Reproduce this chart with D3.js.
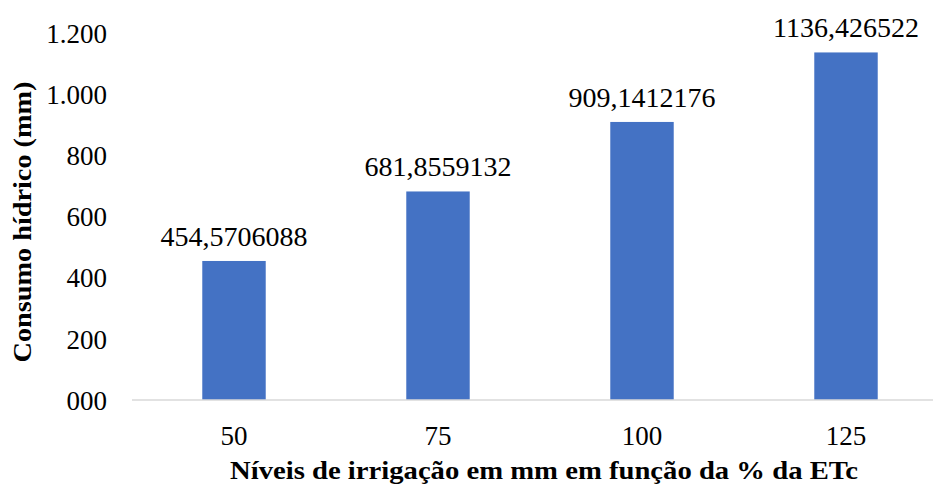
<!DOCTYPE html>
<html>
<head>
<meta charset="utf-8">
<script src="https://cdn.jsdelivr.net/npm/d3@7"></script>
<style>
  html, body { margin: 0; padding: 0; background: #fff; }
</style>
</head>
<body>
<svg id="chart" width="933" height="487" style="display:block;font-family:'Liberation Serif'"></svg>
<script>
// Irrigation levels (% of ETc) and water consumption (mm)
const categories = ["50", "75", "100", "125"];
const values = [454.5706088, 681.8559132, 909.1412176, 1136.426522];
const valueLabels = ["454,5706088", "681,8559132", "909,1412176", "1136,426522"];
const yTicks = [0, 200, 400, 600, 800, 1000, 1200];
const yTickLabels = ["000", "200", "400", "600", "800", "1.000", "1.200"];

const FONT = "Liberation Serif";
const svg = d3.select("#chart");
const W = 933;
const plot = { left: 132, right: 948, top: 33, bottom: 400 };

const x = d3.scaleBand()
  .domain(categories)
  .range([plot.left, plot.right])
  .paddingInner(0.689)
  .paddingOuter(0.3445);

const y = d3.scaleLinear()
  .domain([0, 1200])
  .range([plot.bottom, plot.top]);

function serif(sel, size, weight) {
  sel.attr("font-family", FONT)
    .style("font-family", FONT)
    .attr("font-size", size)
    .style("font-size", size + "px")
    .style("font-weight", weight || "normal")
    .attr("fill", "#000");
}

// y tick labels (no gridlines, no axis line)
const yAxis = d3.axisLeft(y)
  .tickValues(yTicks)
  .tickFormat((d, i) => yTickLabels[i])
  .tickSize(0)
  .tickPadding(0);
const gy = svg.append("g")
  .attr("transform", "translate(107,0)")
  .call(yAxis)
  .attr("font-family", FONT);
gy.select(".domain").remove();
gy.selectAll("text").call(serif, 27).attr("dy", "0.34em");

// bars
svg.append("g").selectAll("rect")
  .data(values)
  .join("rect")
  .attr("x", (d, i) => x(categories[i]))
  .attr("y", d => y(d))
  .attr("width", x.bandwidth())
  .attr("height", d => y(0) - y(d))
  .attr("fill", "#4472C4");

// baseline
svg.append("line")
  .attr("x1", plot.left).attr("x2", W)
  .attr("y1", y(0)).attr("y2", y(0))
  .attr("stroke", "#d9d9d9")
  .attr("stroke-width", 1.5);

// x tick labels
const xAxis = d3.axisBottom(x).tickSize(0).tickPadding(0);
const gx = svg.append("g")
  .attr("transform", `translate(0,${y(0)})`)
  .call(xAxis)
  .attr("font-family", FONT);
gx.select(".domain").remove();
gx.selectAll("text").call(serif, 27).attr("y", 45).attr("dy", 0);

// value labels above bars
svg.append("g").selectAll("text")
  .data(values)
  .join("text")
  .attr("x", (d, i) => x(categories[i]) + x.bandwidth() / 2)
  .attr("y", d => y(d) - 15)
  .attr("text-anchor", "middle")
  .call(serif, 28)
  .text((d, i) => valueLabels[i]);

// axis titles
svg.append("text")
  .attr("x", 544)
  .attr("y", 479)
  .attr("text-anchor", "middle")
  .call(serif, 26, "bold")
  .attr("textLength", 628)
  .attr("lengthAdjust", "spacingAndGlyphs")
  .text("Níveis de irrigação em mm em função da % da ETc");

svg.append("text")
  .attr("transform", "translate(31,222) rotate(-90)")
  .attr("text-anchor", "middle")
  .call(serif, 26, "bold")
  .attr("textLength", 281)
  .attr("lengthAdjust", "spacingAndGlyphs")
  .text("Consumo hídrico (mm)");
</script>
</body>
</html>
